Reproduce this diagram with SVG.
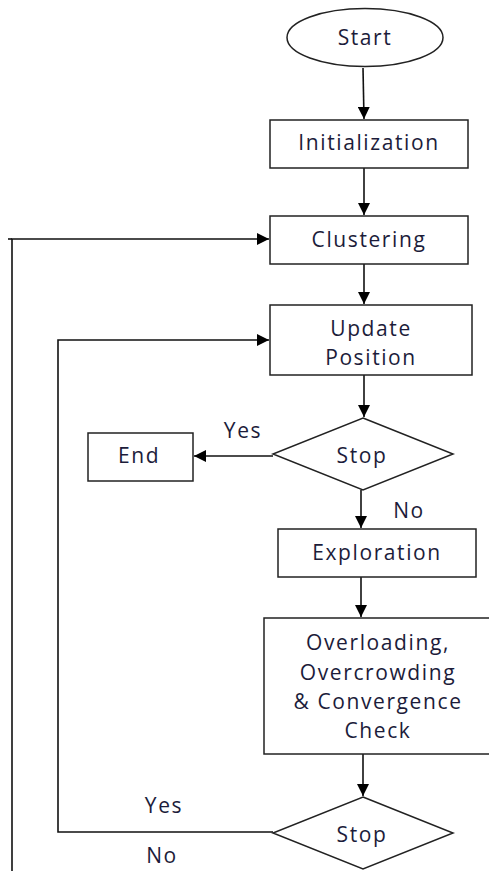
<svg xmlns="http://www.w3.org/2000/svg" width="489" height="871" viewBox="0 0 489 871">
<style>
.s{fill:#fff;stroke:#222;stroke-width:1.5}
.t{font-family:"Open Sans","Noto Sans",sans-serif;font-size:21px;font-weight:500;letter-spacing:1.6px;fill:#1c1c3a;text-anchor:middle;dominant-baseline:central}
.c{fill:none;stroke:#111;stroke-width:1.6}
</style>
<defs>
<marker id="a" viewBox="0 0 10 10" refX="10" refY="5" markerWidth="12" markerHeight="12" markerUnits="userSpaceOnUse" orient="auto">
<path d="M0,0 L10,5 L0,10 Z" fill="#000"/>
</marker>
</defs>
<rect width="489" height="871" fill="#fff"/>
<g id="connectors">
<line class="c" x1="363" y1="68" x2="364" y2="119" marker-end="url(#a)"/>
<line class="c" x1="364" y1="168" x2="364" y2="215" marker-end="url(#a)"/>
<line class="c" x1="364" y1="264" x2="364" y2="304" marker-end="url(#a)"/>
<line class="c" x1="364" y1="375" x2="364" y2="417" marker-end="url(#a)"/>
<line class="c" x1="273" y1="456" x2="194" y2="456" marker-end="url(#a)"/>
<line class="c" x1="361" y1="490" x2="361" y2="528" marker-end="url(#a)"/>
<line class="c" x1="361" y1="577" x2="361" y2="617" marker-end="url(#a)"/>
<line class="c" x1="363" y1="754" x2="363" y2="796" marker-end="url(#a)"/>
<polyline class="c" points="273,832 58,832 58,340 269,340" marker-end="url(#a)"/>
<polyline class="c" points="12,871 12,239 269,239" marker-end="url(#a)"/>
<line x1="8" y1="239" x2="12" y2="239" stroke="#111" stroke-width="1.6"/>
<text class="t" x="243" y="430">Yes</text>
<text class="t" x="409" y="510">No</text>
<text class="t" x="164" y="805">Yes</text>
<text class="t" x="162" y="855">No</text>
</g>
<g id="start">
<ellipse class="s" cx="365" cy="37.5" rx="78" ry="29"/>
<text class="t" x="365" y="37">Start</text>
</g>
<g id="init">
<rect class="s" x="270" y="120" width="198" height="48"/>
<text class="t" x="369" y="142">Initialization</text>
</g>
<g id="clustering">
<rect class="s" x="270" y="216" width="198" height="48"/>
<text class="t" x="369" y="239">Clustering</text>
</g>
<g id="update">
<rect class="s" x="270" y="305" width="202" height="70"/>
<text class="t" x="371" y="328">Update</text>
<text class="t" x="371" y="357">Position</text>
</g>
<g id="stop1">
<polygon class="s" points="363,418 453,454 363,490 273,454"/>
<text class="t" x="362" y="455">Stop</text>
</g>
<g id="end">
<rect class="s" x="88" y="433" width="105" height="48"/>
<text class="t" x="139" y="455">End</text>
</g>
<g id="exploration">
<rect class="s" x="278" y="529" width="198" height="48"/>
<text class="t" x="377" y="552">Exploration</text>
</g>
<g id="check">
<rect class="s" x="264" y="618" width="226" height="136"/>
<text class="t" x="378" y="642">Overloading,</text>
<text class="t" x="378" y="672">Overcrowding</text>
<text class="t" x="378" y="701">&amp; Convergence</text>
<text class="t" x="378" y="730">Check</text>
</g>
<g id="stop2">
<polygon class="s" points="363,797 453,833 363,869 273,833"/>
<text class="t" x="362" y="834">Stop</text>
</g>
</svg>
